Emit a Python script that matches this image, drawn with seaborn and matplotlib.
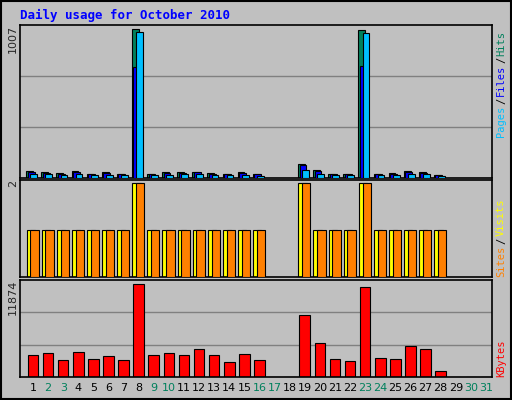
import matplotlib
matplotlib.use("Agg")
import matplotlib.pyplot as plt
import seaborn as sns
import numpy as np
import pandas as pd

days = list(range(1, 32))
hits  = [45,40,32,45,30,38,30,1007,30,38,42,42,35,30,38,28,0,0,95,55,30,30,1000,30,32,45,42,22,0,0,0]
files = [38,35,28,40,26,32,26,750,26,33,36,38,30,26,33,24,0,0,90,50,26,26,760,26,28,40,36,18,0,0,0]
pages = [28,25,20,28,18,22,18,990,18,22,25,26,20,18,22,16,0,0,55,30,18,18,985,18,20,28,25,12,0,0,0]
visits = [1,1,1,1,1,1,1,2,1,1,1,1,1,1,1,1,0,0,2,1,1,1,2,1,1,1,1,1,0,0,0]
sites  = [1,1,1,1,1,1,1,2,1,1,1,1,1,1,1,1,0,0,2,1,1,1,2,1,1,1,1,1,0,0,0]
kbytes = [2807,3066,2159,3238,2288,2677,2159,11874,2807,3066,2807,3584,2807,1900,2936,2159,0,0,7858,4361,2288,2029,11485,2418,2288,3972,3584,734,0,0,0]
weekend = {2,3,9,10,16,17,23,24,30,31}

sns.set_theme(style="white")
plt.rcParams['font.family'] = ['DejaVu Sans Mono', 'DejaVu Sans']

W, H = 512, 400
fig = plt.figure(figsize=(W/100, H/100), dpi=100, facecolor="#C0C0C0")
def ax_px(x0, y0, x1, y1):
    a = fig.add_axes([x0/W, 1-y1/H, (x1-x0)/W, (y1-y0)/H])
    a.set_facecolor("#C0C0C0")
    for s in a.spines.values():
        s.set_color("black"); s.set_linewidth(1.2)
    a.set_xticks([]); a.set_yticks([])
    a.set_xlim(0.14, 31.4)
    return a

fig.patches.append(plt.Rectangle((1/W, 1/H), 1-2/W, 1-2/H, transform=fig.transFigure,
                                 fill=False, ec="black", lw=1.5))
fig.text(20/W, 1-15/H, "Daily usage for October 2010", color="#0000FF",
         fontsize=9, fontweight="bold", va="center", ha="left")

ec = dict(edgecolor="black", linewidth=0.8)
a1 = ax_px(20, 25, 492, 178)
a1.set_ylim(0, 1007*1.03)
for g in (1/3, 2/3):
    a1.axhline(1007*1.03*g, color="#808080", lw=1, zorder=0)
x = np.array(days, float)
m = np.array(hits) > 0
a1.bar(x[m]-0.22, np.array(hits)[m], width=0.45, color="#00805C", **ec, zorder=2)
a1.bar(x[m]-0.12, np.array(files)[m], width=0.45, color="#0000FF", **ec, zorder=3)
a1.bar(x[m]+0.05, np.array(pages)[m], width=0.45, color="#00BFFF", **ec, zorder=4)

a2 = ax_px(20, 180, 492, 277)
a2.set_ylim(0, 2*1.03)
m2 = np.array(visits) > 0
a2.bar(x[m2]-0.15, np.array(visits)[m2], width=0.55, color="#FFFF00", **ec, zorder=2)
a2.bar(x[m2]+0.1, np.array(sites)[m2], width=0.55, color="#FF8000", **ec, zorder=3)

a3 = ax_px(20, 280, 492, 377)
a3.set_ylim(0, 11874*1.04)
for g in (1/3, 2/3):
    a3.axhline(11874*1.04*g, color="#808080", lw=1, zorder=0)
df = pd.DataFrame({"day": days, "kb": kbytes})
sns.barplot(data=df, x="day", y="kb", ax=a3, native_scale=True, color="#FF0000",
            saturation=1, width=0.7, edgecolor="black", linewidth=0.8, zorder=2)
a3.set_xlim(0.14, 31.4); a3.set_xlabel(""); a3.set_ylabel("")
a3.set_xticks([]); a3.set_yticks([])

for d in days:
    X = 33 + (d-1)*15.1
    fig.text(X/W, 1-388/H, str(d), ha="center", va="center", fontsize=8,
             color="#00805C" if d in weekend else "black", family=["DejaVu Sans"])

for y, t in ((25, "1007"), (180, "2"), (280, "11874")):
    fig.text(13/W, 1-y/H, t, rotation=90, ha="center", va="top", fontsize=8, family=["DejaVu Sans"])

def vlabel(y_bottom, parts):
    yy = y_bottom
    for txt, col in parts:
        fig.text(501/W, 1-yy/H, txt, rotation=90, ha="center", va="bottom",
                 fontsize=7.5, color=col)
        yy -= len(txt)*6.6 + 0.5
vlabel(137, [("Pages", "#00BFFF"), ("/", "black"), ("Files", "#0000FF"), ("/", "black"), ("Hits", "#00805C")])
vlabel(277, [("Sites", "#FF8000"), ("/", "black"), ("Visits", "#FFFF00")])
vlabel(377, [("KBytes", "#FF0000")])

fig.savefig("out.png", dpi=100, facecolor=fig.get_facecolor())
